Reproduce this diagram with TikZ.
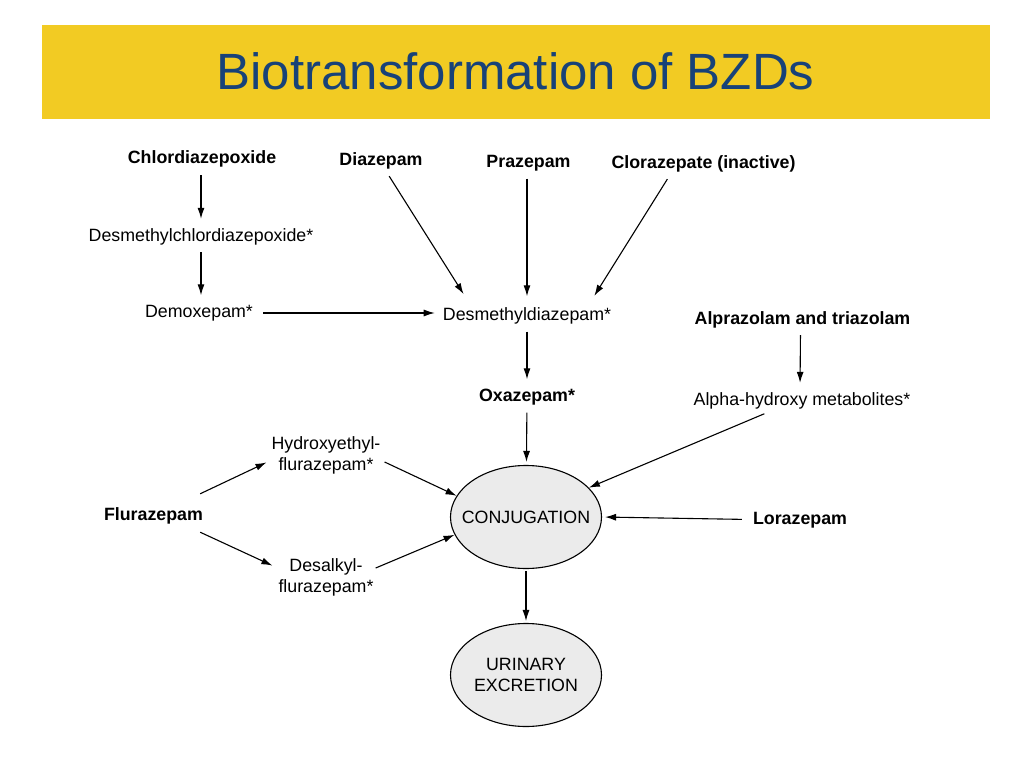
\documentclass[tikz,border=0pt]{standalone}
\usepackage{fontspec}
\setmainfont{Liberation Sans}
\usetikzlibrary{arrows.meta,shapes.geometric}
\definecolor{bannerYellow}{RGB}{242,203,35}
\definecolor{titleBlue}{RGB}{24,66,120}
\definecolor{poolGray}{RGB}{235,235,235}

\begin{document}
\begin{tikzpicture}[x=1pt,y=-1pt,>={Latex[length=11pt,width=7pt]},
	drug/.style={font=\fontsize{17.8}{21}\selectfont\bfseries, text height=13pt, text depth=4pt, inner sep=3pt},
	metab/.style={font=\fontsize{17.8}{21}\selectfont, text height=13pt, text depth=4pt, inner sep=3pt},
	metabtwo/.style={font=\fontsize{17.8}{21}\selectfont, align=center, inner sep=3pt},
	pool/.style={ellipse, draw, line width=1.1pt, fill=poolGray, minimum width=151pt, minimum height=103pt, inner sep=0pt},
	flow/.style={->, line width=1.1pt, shorten <=4pt, shorten >=6pt}]
		\useasboundingbox (0,0) rectangle (1024,767);
		%title
		\fill [bannerYellow] (42,25) rectangle (990,119);
		\node [font=\fontsize{51}{60}\selectfont, text=titleBlue, anchor=base] (title) at (515.5,90) {Biotransformation of BZDs};
		%parents
		\node [drug] (chlor) at (202,159.5) {Chlordiazepoxide};
		\node [drug] (diaz) at (381,161) {Diazepam};
		\node [drug] (praz) at (528.5,163) {Prazepam};
		\node [drug] (cloraz) at (703.5,164) {Clorazepate (inactive)};
		\node [metab] (dmcd) at (201,236.5) {Desmethylchlordiazepoxide*};
		\node [metab] (demox) at (199,313) {Demoxepam*};
		\node [metab] (desm) at (527,316) {Desmethyldiazepam*};
		\node [drug] (alpr) at (802.5,319.5) {Alprazolam and triazolam};
		\node [drug] (oxa) at (527,397) {Oxazepam*};
		\node [metab] (alph) at (802,400.5) {Alpha-hydroxy metabolites*};
		\node [metabtwo] (hyd) at (326,455) {Hydroxyethyl-\\flurazepam*};
		\node [drug] (flur) at (153.5,515.5) {Flurazepam};
		\node [metabtwo] (desalk) at (326,577) {Desalkyl-\\flurazepam*};
		\node [drug] (loraz) at (800,519.5) {Lorazepam};
		%pools
		\node [pool, label={[metabtwo]center:CONJUGATION}] (conj) at (526,517) {};
		\node [pool, label={[metabtwo]center:URINARY\\EXCRETION}] (urin) at (526,675) {};
		%1
		\draw [flow] (dmcd.north |- chlor.south) -- (dmcd.north);
		\draw [flow] (dmcd.south) -- (dmcd.south |- demox.north);
		\draw [flow, shorten <=7pt, shorten >=5pt] (demox.east) -- (demox.east -| desm.west);
		%2
		\draw [flow, shorten >=12pt] ([xshift=6pt]diaz.south) -- ([xshift=-57pt]desm.north);
		\draw [flow, shorten >=8pt] (desm.north |- praz.south) -- (desm.north);
		\draw [flow, shorten >=10pt] ([xshift=-34pt]cloraz.south) -- ([xshift=62pt]desm.north);
		\draw [flow] (desm) -- (oxa);
		\draw [flow, shorten >=3pt] (oxa) -- (conj);
		%3
		\draw [flow] ([xshift=-2pt]alpr.south) -- ([xshift=-2pt]alph.north);
		\draw [flow, shorten >=0pt] ([xshift=-34pt]alph.south) -- (conj.25);
		\draw [flow, shorten <=8pt, shorten >=3pt] (loraz.west) -- (conj.east);
		%4
		\draw [flow, shorten <=0pt, shorten >=1pt] ([shift={(-6,-10)}]flur.north east) -- ([shift={(-1,7)}]hyd.west);
		\draw [flow, shorten <=0pt, shorten >=1pt] ([shift={(-6,5)}]flur.south east) -- ([shift={(-2,-11)}]desalk.west);
		\draw [flow, shorten <=0pt, shorten >=0pt] ([shift={(1,7)}]hyd.east) -- (conj.163);
		\draw [flow, shorten <=0pt, shorten >=0pt] ([shift={(-1,-9)}]desalk.east) -- (conj.194);
		%5
		\draw [flow, shorten <=2pt, shorten >=2pt] (conj) -- (urin);
	\end{tikzpicture}
\end{document}
